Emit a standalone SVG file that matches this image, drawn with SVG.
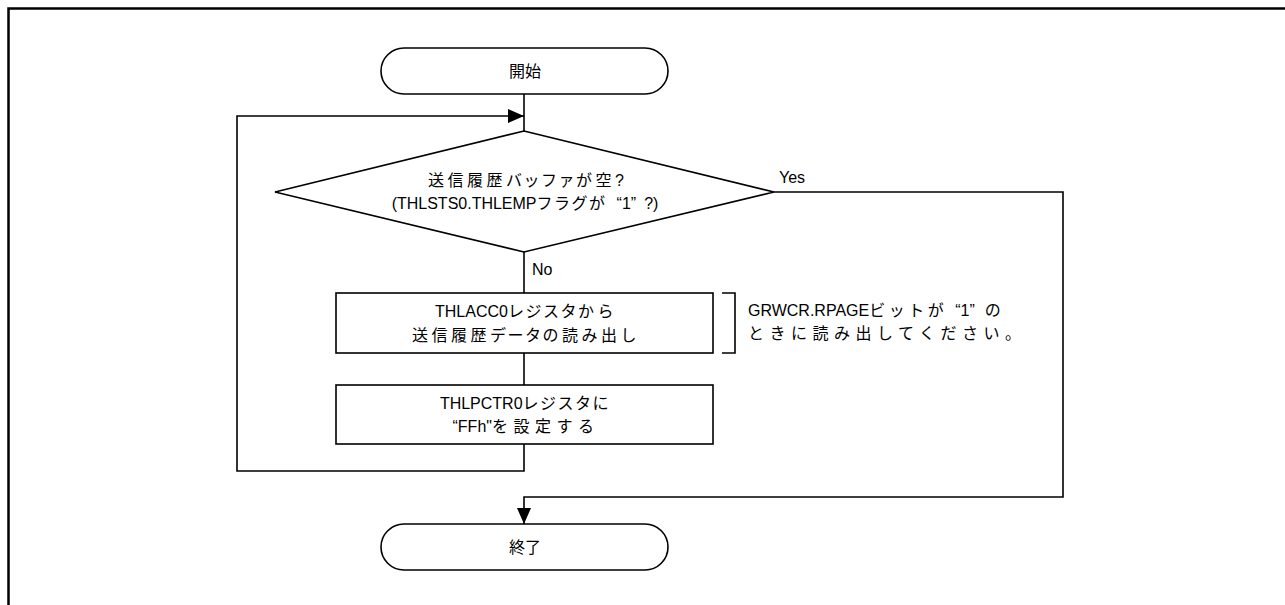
<svg xmlns="http://www.w3.org/2000/svg" width="1285" height="605" viewBox="0 0 1285 605">
<defs>
<style>
.t{font-family:"Liberation Sans","Noto Sans CJK JP",sans-serif;font-size:16px;fill:#000}
.c{text-anchor:middle}
.k{letter-spacing:3.5px}
.w{letter-spacing:5.5px}
.a{letter-spacing:1.5px}
.s{fill:#fff;stroke:#000;stroke-width:1.6}
.l{fill:none;stroke:#000;stroke-width:1.6}
</style>
<marker id="ah" markerWidth="16" markerHeight="14" refX="16" refY="7" orient="auto" markerUnits="userSpaceOnUse">
<path d="M0,0 L16,7 L0,14 Z" fill="#000"/>
</marker>
</defs>
<rect width="1285" height="605" fill="#fff"/>
<path d="M8.5,605 V8.5 H1285" fill="none" stroke="#000" stroke-width="2.5"/>
<g id="connectors">
<path class="l" d="M524,94 V131"/>
<path class="l" d="M524,252 V293"/>
<path class="l" d="M524,353 V385"/>
<path class="l" d="M524,444 V471 H237 V116 H524" marker-end="url(#ah)"/>
<path class="l" d="M774,192 H1063 V497 H524 V524" marker-end="url(#ah)"/>
<path class="l" d="M722,293 H735 V353 H722"/>
</g>
<g id="start">
<rect class="s" x="381" y="48" width="287" height="46" rx="23"/>
<text class="t c" x="525" y="77">開始</text>
</g>
<g id="decision">
<polygon class="s" points="524,131 774,192 524,252 275,192"/>
<text class="t c" x="526" y="186"><tspan class="k">送信履歴</tspan><tspan class="a">バッファ</tspan><tspan class="k">が空</tspan>?</text>
<text class="t c" x="525" y="209">(THLSTS0.THLEMP<tspan class="a">フラグ</tspan><tspan class="k">が</tspan><tspan dx="8">“</tspan>1”<tspan dx="8">?)</tspan></text>
</g>
<g id="labels">
<text class="t" x="779" y="183">Yes</text>
<text class="t" x="532" y="275">No</text>
</g>
<g id="read">
<rect class="s" x="336" y="293" width="377" height="60"/>
<text class="t c" x="526" y="317">THLACC0<tspan class="a">レジスタ</tspan><tspan class="k">から</tspan></text>
<text class="t c" x="526" y="341"><tspan class="k">送信履歴</tspan><tspan class="a">データ</tspan><tspan class="k">の読み出し</tspan></text>
</g>
<g id="set">
<rect class="s" x="336" y="385" width="377" height="59"/>
<text class="t c" x="526" y="409">THLPCTR0<tspan class="a">レジスタ</tspan><tspan class="k">に</tspan></text>
<text class="t c" x="526" y="432">“FFh"<tspan class="w">を設定する</tspan></text>
</g>
<g id="note">
<text class="t" x="748" y="316">GRWCR.RPAGE<tspan class="k">ビット</tspan><tspan class="w">が</tspan><tspan dx="6">“</tspan>1”<tspan dx="10" class="w">の</tspan></text>
<text class="t" x="748" y="339"><tspan class="w">ときに読み出してください。</tspan></text>
</g>
<g id="end">
<rect class="s" x="381" y="524" width="287" height="46" rx="23"/>
<text class="t c" x="525" y="553">終了</text>
</g>
</svg>
